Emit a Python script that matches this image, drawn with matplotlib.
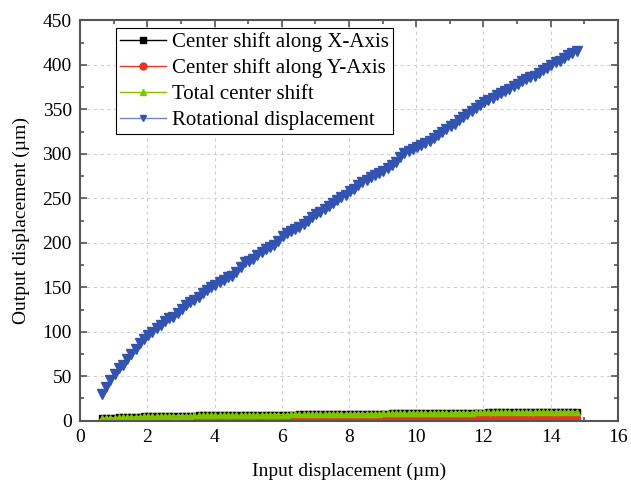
import matplotlib
matplotlib.use('Agg')
import matplotlib.pyplot as plt
from matplotlib.ticker import MultipleLocator

plt.rcParams['font.family'] = ['Liberation Serif', 'DejaVu Serif']

# input displacement (um)
x_in = [0.650, 0.775, 0.900, 1.025, 1.150, 1.275, 1.400, 1.525, 1.650, 1.775,
        1.900, 2.025, 2.150, 2.275, 2.400, 2.525, 2.650, 2.775, 2.900, 3.025,
        3.150, 3.275, 3.400, 3.525, 3.650, 3.775, 3.900, 4.025, 4.150, 4.275,
        4.400, 4.525, 4.650, 4.775, 4.900, 5.025, 5.150, 5.275, 5.400, 5.525,
        5.650, 5.775, 5.900, 6.025, 6.150, 6.275, 6.400, 6.525, 6.650, 6.775,
        6.900, 7.025, 7.150, 7.275, 7.400, 7.525, 7.650, 7.775, 7.900, 8.025,
        8.150, 8.275, 8.400, 8.525, 8.650, 8.775, 8.900, 9.025, 9.150, 9.275,
        9.400, 9.525, 9.650, 9.775, 9.900, 10.025, 10.150, 10.275, 10.400, 10.525,
        10.650, 10.775, 10.900, 11.025, 11.150, 11.275, 11.400, 11.525, 11.650, 11.775,
        11.900, 12.025, 12.150, 12.275, 12.400, 12.525, 12.650, 12.775, 12.900, 13.025,
        13.150, 13.275, 13.400, 13.525, 13.650, 13.775, 13.900, 14.025, 14.150, 14.275,
        14.400, 14.525, 14.650, 14.775]

rot_disp = [30, 38, 46, 53, 59, 63, 69, 75, 81, 87,
            92, 96, 100, 104, 108, 112, 115, 117, 121, 126,
            130, 133, 136, 139, 143, 147, 150, 153, 156, 158,
            161, 163, 167, 173, 178, 180, 182, 186, 190, 193,
            195, 198, 202, 208, 211, 213, 215, 218, 221, 225,
            229, 232, 235, 238, 241, 245, 248, 251, 254, 258,
            261, 265, 268, 271, 274, 276, 279, 281, 284, 288,
            291, 296, 301, 303, 305, 308, 310, 312, 315, 318,
            321, 325, 328, 331, 334, 338, 341, 345, 348, 352,
            355, 358, 361, 363, 366, 369, 371, 373, 376, 379,
            382, 384, 386, 388, 391, 394, 397, 400, 403, 405,
            408, 411, 414, 416]

total_shift = [2.5, 2.8, 3.1, 3.4, 3.6, 3.8, 4.0, 4.2, 4.4, 4.5,
               4.7, 4.8, 4.9, 5.0, 5.1, 5.2, 5.3, 5.4, 5.5, 5.5,
               5.6, 5.7, 5.8, 5.8, 5.9, 6.0, 6.0, 6.1, 6.1, 6.2,
               6.2, 6.3, 6.3, 6.4, 6.4, 6.5, 6.5, 6.6, 6.6, 6.7,
               6.7, 6.8, 6.8, 6.9, 6.9, 7.0, 7.0, 7.1, 7.1, 7.2,
               7.2, 7.3, 7.3, 7.4, 7.4, 7.5, 7.5, 7.6, 7.6, 7.7,
               7.7, 7.8, 7.8, 7.9, 7.9, 8.0, 8.0, 8.1, 8.1, 8.2,
               8.2, 8.3, 8.3, 8.4, 8.4, 8.5, 8.5, 8.6, 8.6, 8.7,
               8.7, 8.8, 8.8, 8.9, 8.9, 9.0, 9.0, 9.1, 9.1, 9.2,
               9.2, 9.3, 9.3, 9.4, 9.4, 9.5, 9.5, 9.5, 9.6, 9.6,
               9.6, 9.7, 9.7, 9.7, 9.8, 9.8, 9.8, 9.9, 9.9, 9.9,
               10.0, 10.0, 10.0, 10.0]

x_shift = [2.5, 2.8, 3.1, 3.4, 3.6, 3.8, 4.0, 4.2, 4.4, 4.5,
           4.7, 4.8, 4.9, 5.0, 5.1, 5.2, 5.3, 5.4, 5.4, 5.5,
           5.6, 5.6, 5.7, 5.8, 5.8, 5.9, 5.9, 6.0, 6.0, 6.1,
           6.1, 6.2, 6.2, 6.3, 6.3, 6.4, 6.4, 6.5, 6.5, 6.6,
           6.6, 6.7, 6.7, 6.8, 6.8, 6.9, 6.9, 7.0, 7.0, 7.1,
           7.1, 7.2, 7.2, 7.3, 7.3, 7.4, 7.4, 7.5, 7.5, 7.6,
           7.6, 7.7, 7.7, 7.8, 7.8, 7.9, 7.9, 8.0, 8.0, 8.1,
           8.1, 8.2, 8.2, 8.3, 8.3, 8.4, 8.4, 8.5, 8.5, 8.6,
           8.6, 8.7, 8.7, 8.8, 8.8, 8.9, 8.9, 9.0, 9.0, 9.0,
           9.1, 9.1, 9.2, 9.2, 9.3, 9.3, 9.3, 9.4, 9.4, 9.4,
           9.5, 9.5, 9.5, 9.6, 9.6, 9.6, 9.7, 9.7, 9.7, 9.8,
           9.8, 9.8, 9.9, 9.9]

y_shift = [0.0, 0.0, 0.0, 0.1, 0.1, 0.1, 0.2, 0.2, 0.2, 0.3,
           0.3, 0.3, 0.4, 0.4, 0.4, 0.4, 0.5, 0.5, 0.5, 0.5,
           0.6, 0.6, 0.6, 0.6, 0.7, 0.7, 0.7, 0.7, 0.8, 0.8,
           0.8, 0.8, 0.9, 0.9, 0.9, 0.9, 1.0, 1.0, 1.0, 1.0,
           1.0, 1.1, 1.1, 1.1, 1.1, 1.1, 1.2, 1.2, 1.2, 1.2,
           1.2, 1.3, 1.3, 1.3, 1.3, 1.3, 1.4, 1.4, 1.4, 1.4,
           1.4, 1.5, 1.5, 1.5, 1.5, 1.5, 1.6, 1.6, 1.6, 1.6,
           1.6, 1.7, 1.7, 1.7, 1.7, 1.7, 1.8, 1.8, 1.8, 1.8,
           1.8, 1.9, 1.9, 1.9, 1.9, 1.9, 2.0, 2.0, 2.0, 2.0,
           2.0, 2.1, 2.1, 2.1, 2.1, 2.1, 2.2, 2.2, 2.2, 2.2,
           2.2, 2.3, 2.3, 2.3, 2.3, 2.3, 2.4, 2.4, 2.4, 2.4,
           2.4, 2.5, 2.5, 2.5]

fig = plt.figure(figsize=(6.31, 4.88), dpi=100)
ax = fig.add_axes([0.127, 0.138, 0.852, 0.820])

ax.plot(x_in, x_shift, c='black', lw=1, marker='s', ms=4, mec='black',
        label='Center shift along X-Axis')
ax.plot(x_in, y_shift, c='#e8322a', lw=1, marker='o', ms=4.5, mec='#e8322a',
        label='Center shift along Y-Axis')
ax.plot(x_in, total_shift, c='#7ec400', lw=1, marker='^', ms=5, mec='#7ec400',
        label='Total center shift')
ax.plot(x_in, rot_disp, c='#6f87c6', lw=1, marker='v', ms=7, mfc='#3353b0',
        mec='#3353b0', label='Rotational displacement')

ax.set_xlim(0, 16)
ax.set_ylim(0, 450)
ax.xaxis.set_major_locator(MultipleLocator(2))
ax.xaxis.set_minor_locator(MultipleLocator(1))
ax.yaxis.set_major_locator(MultipleLocator(50))
ax.yaxis.set_minor_locator(MultipleLocator(25))

ax.grid(True, which='major', ls=(0, (3, 3)), c='#d0d0d0', lw=0.8)
ax.set_axisbelow(True)

for s in ax.spines.values():
    s.set_color('#555555')
    s.set_linewidth(1.5)
ax.tick_params(which='both', direction='in', top=True, right=True,
               color='#555555', width=1.2, labelsize=14, pad=6)
ax.tick_params(which='major', length=5)
ax.tick_params(which='minor', length=3)

ax.set_xlabel('Input displacement (µm)', fontsize=14, labelpad=12)
ax.set_ylabel('Output displacement (µm)', fontsize=14, labelpad=9)

leg = ax.legend(loc='upper left', bbox_to_anchor=(0.067, 0.981), fontsize=15,
                numpoints=1, handlelength=2.2, handletextpad=0.3,
                labelspacing=0.3, borderpad=0.2, fancybox=False,
                framealpha=1, edgecolor='black', borderaxespad=0)
leg.get_frame().set_linewidth(0.8)
# small, equal markers in the legend
for h in leg.legend_handles:
    h.set_markersize(5)

fig.savefig('out.png', dpi=100)
